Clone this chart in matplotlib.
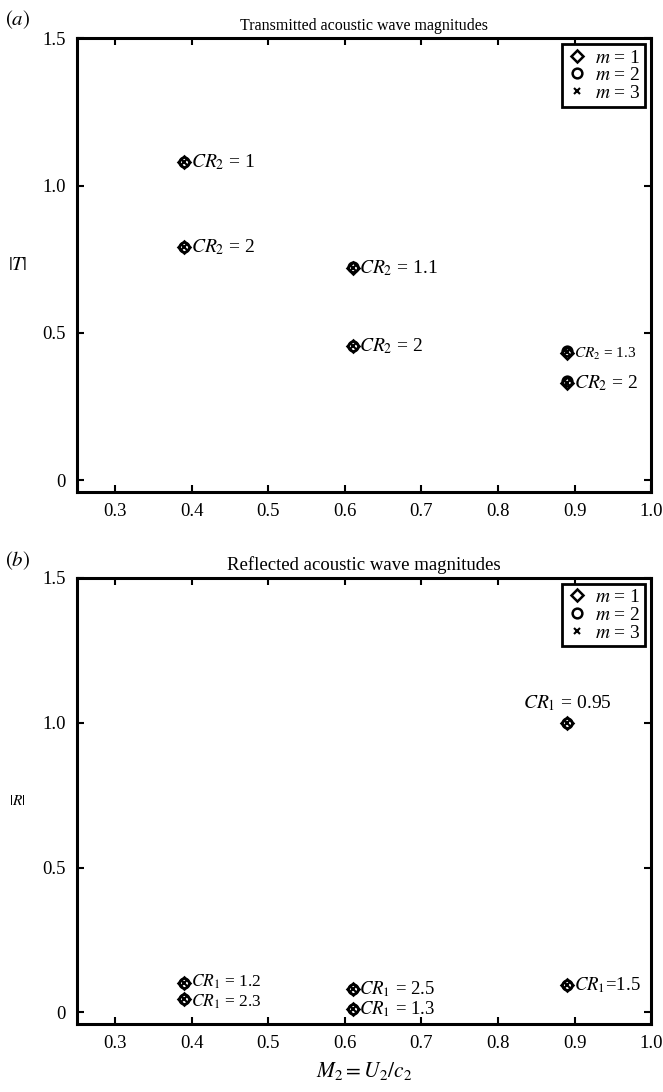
import matplotlib
matplotlib.use("Agg")
import matplotlib.pyplot as plt
from matplotlib.lines import Line2D
import numpy as np

plt.rcParams['font.family'] = ['Liberation Serif', 'DejaVu Serif']
plt.rcParams['mathtext.fontset'] = 'stix'

# Panel (a): transmitted magnitudes |T|
t_mach = [0.39, 0.39, 0.61, 0.61, 0.89, 0.89]
t_m1 = [1.08, 0.79, 0.72, 0.455, 0.43, 0.33]
t_m2 = [1.08, 0.79, 0.725, 0.455, 0.44, 0.335]
t_m3 = [1.08, 0.79, 0.72, 0.455, 0.435, 0.33]
t_labels = [r'$CR_2$ = 1', r'$CR_2$ = 2', r'$CR_2$ = 1.1', r'$CR_2$ = 2',
            r'$CR_2$ = 1.3', r'$CR_2$ = 2']

# Panel (b): reflected magnitudes |R|
r_mach = [0.39, 0.39, 0.61, 0.61, 0.89, 0.89]
r_m1 = [0.10, 0.045, 0.08, 0.01, 1.0, 0.095]
r_m2 = [0.10, 0.045, 0.08, 0.01, 1.0, 0.095]
r_m3 = [0.10, 0.045, 0.08, 0.01, 1.0, 0.095]
r_labels = [r'$CR_1$ = 1.2', r'$CR_1$ = 2.3', r'$CR_1$ = 2.5', r'$CR_1$ = 1.3',
            r'$CR_1$ = 0.95', r'$CR_1$=1.5']

xticks = [0.3, 0.4, 0.5, 0.6, 0.7, 0.8, 0.9, 1.0]
yticks = [0, 0.5, 1.0, 1.5]
yticklabels = ['0', '0.5', '1.0', '1.5']

fig = plt.figure(figsize=(6.63, 10.92), dpi=100)
ax1 = fig.add_axes([0.116, 0.5495, 0.866, 0.4155])
ax2 = fig.add_axes([0.116, 0.0623, 0.866, 0.4084])


def draw_panel(ax, x, m1, m2, m3, fs_title, title, ylabel, ylfs):
    ax.plot(x, m1, 'D', ms=6, mfc='none', mec='black', mew=1.8, ls='none')
    ax.plot(x, m2, 'o', ms=7, mfc='none', mec='black', mew=1.8, ls='none')
    ax.plot(x, m3, 'x', ms=5, mec='black', mew=1.5, ls='none')
    ax.set_xlim(0.25, 1.0)
    ax.set_ylim(-0.04, 1.5)
    ax.set_xticks(xticks)
    ax.set_xticklabels(['%.1f' % v for v in xticks])
    ax.set_yticks(yticks)
    ax.set_yticklabels(yticklabels)
    ax.tick_params(direction='in', length=5, width=1.5, labelsize=13.5,
                   top=True, right=True, pad=8)
    for s in ax.spines.values():
        s.set_linewidth(2.2)
    ax.set_title(title, fontsize=fs_title, pad=6)
    ax.set_ylabel(ylabel, rotation=0, fontsize=ylfs, labelpad=18, va='center')
    handles = [
        Line2D([], [], marker='D', ms=6, mfc='none', mec='black', mew=1.8, ls='none'),
        Line2D([], [], marker='o', ms=7, mfc='none', mec='black', mew=1.8, ls='none'),
        Line2D([], [], marker='x', ms=5, mec='black', mew=1.5, ls='none'),
    ]
    leg = ax.legend(handles, [r'$m$ = 1', r'$m$ = 2', r'$m$ = 3'], loc='upper right',
                    fontsize=14, handlelength=1.0, handletextpad=0.4,
                    borderpad=0.25, labelspacing=0.0, fancybox=False,
                    framealpha=1, borderaxespad=0.3)
    leg.get_frame().set_edgecolor('black')
    leg.get_frame().set_linewidth(2.0)


draw_panel(ax1, t_mach, t_m1, t_m2, t_m3, 11.5,
           'Transmitted acoustic wave magnitudes', r'$|T|$', 14)
draw_panel(ax2, r_mach, r_m1, r_m2, r_m3, 13.5,
           'Reflected acoustic wave magnitudes', r'$|R|$', 11)

for xv, yv, lab in zip(t_mach, t_m1, t_labels):
    fs = 11 if lab == r'$CR_2$ = 1.3' else 14
    ax1.annotate(lab, (xv, yv), xytext=(5, 0), textcoords='offset points',
                 va='center', ha='left', fontsize=fs)

# small vertical nudges keep the tightly stacked labels apart
r_nudge = [1.5, -1.5, 0, 0, 0, 0]
for xv, yv, lab, dy in zip(r_mach, r_m1, r_labels, r_nudge):
    if lab == r'$CR_1$ = 0.95':
        ax2.annotate(lab, (xv, yv), xytext=(0, 7), textcoords='offset points',
                     va='bottom', ha='center', fontsize=14)
    elif xv < 0.5:
        ax2.annotate(lab, (xv, yv), xytext=(5, dy), textcoords='offset points',
                     va='center', ha='left', fontsize=12.5)
    else:
        ax2.annotate(lab, (xv, yv), xytext=(5, dy), textcoords='offset points',
                     va='center', ha='left', fontsize=13.5)

ax2.set_xlabel(r'$M_2 = U_2/c_2$', fontsize=15.5, labelpad=6)

fig.text(0.008, 0.992, r'$(a)$', fontsize=15, va='top', ha='left')
fig.text(0.008, 0.497, r'$(b)$', fontsize=15, va='top', ha='left')

fig.savefig('out.png', dpi=100)
